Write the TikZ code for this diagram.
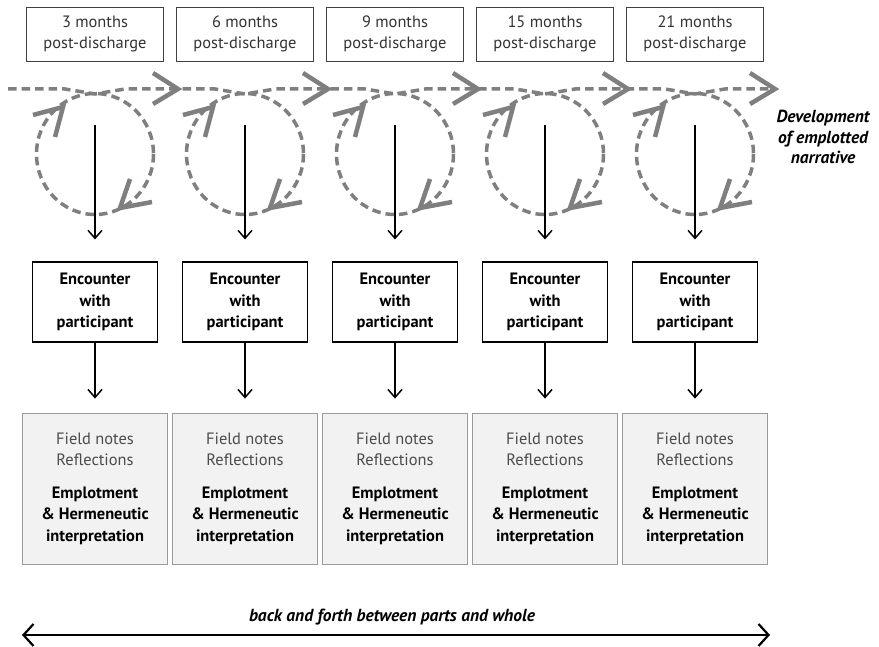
\documentclass[tikz,border=0pt]{standalone}
\usepackage{fontspec}
\setmainfont{PT Sans}
\usetikzlibrary{arrows.meta}
\definecolor{loopgray}{HTML}{7F7F7F}
\definecolor{boxline}{HTML}{404040}
\definecolor{fieldfill}{HTML}{F2F2F2}
\definecolor{fieldline}{HTML}{9A9A9A}
\tikzset{
  topbox/.style={draw=boxline, line width=0.8bp, minimum width=137bp, minimum height=54bp, inner sep=0pt, align=center, text=black!80, font=\fontsize{16.5}{21.5}\selectfont},
  encbox/.style={draw=black, line width=1.1bp, minimum width=125bp, minimum height=80bp, inner sep=0pt, align=center, font=\bfseries\fontsize{16.5}{21.5}\selectfont},
  fieldbox/.style={draw=fieldline, fill=fieldfill, line width=0.8bp, minimum width=145bp, minimum height=151bp, inner sep=0pt, align=center, font=\fontsize{16.5}{21.5}\selectfont},
  loopline/.style={draw=loopgray, line width=3.5bp, dash pattern=on 8.5bp off 5bp},
  chevron/.style={draw=loopgray, line width=4.5bp},
  downarrow/.style={draw=black, line width=1.5bp, -{Straight Barb[length=8bp,width=14bp]}},
  labeltext/.style={font=\bfseries\itshape\fontsize{17.5}{21}\selectfont, align=center}
}
\begin{document}
\begin{tikzpicture}[x=1bp,y=-1bp]
\useasboundingbox (0,0) rectangle (879,647);
% horizontal dashed line
\draw[loopline] (8,89) -- (65,89) -- (95,94) -- (125,89) -- (215,89) -- (245,94) -- (275,89)
  -- (365,89) -- (395,94) -- (425,89) -- (515,89) -- (545,94) -- (575,89)
  -- (665,89) -- (695,94) -- (725,89) -- (775,89);
\foreach \i/\cx/\tip/\lbl in {1/95/178/3, 2/245/328/6, 3/395/478/9, 4/545/628/15, 5/695/775/21}{
  \node[topbox] (t\i) at (\cx,34) {\lbl{} months\\post-discharge};
  \draw[loopline] (\cx,154) ellipse[x radius=58.5, y radius=60.5];
  \draw[chevron] (\tip-25,73) -- (\tip,89) -- (\tip-25,104);
  \draw[chevron] (\cx-62,115) -- (\cx-32,107) -- (\cx-40,137);
  \draw[chevron] (\cx+57,202) -- (\cx+25,208) -- (\cx+35,179);
  \coordinate (s\i) at (\cx,125);
  \node[encbox] (e\i) at (\cx,302) {Encounter\\with\\participant};
  \node[fieldbox] (f\i) at (\cx,488.5) {\textcolor{black!70}{Field notes}\\\textcolor{black!70}{Reflections}\\[11bp]\textbf{Emplotment}\\\textbf{\& Hermeneutic}\\\textbf{interpretation}};
  \draw[downarrow] (s\i) -- ([yshift=22bp]e\i.north);
  \draw[downarrow] (e\i.south) -- ([yshift=14bp]f\i.north);
}
\node[labeltext] (dev) at (823,137) {Development\\of emplotted\\narrative};
\coordinate (bl) at (22,635);
\coordinate (br) at (770,635);
\draw[line width=2.2bp, {Straight Barb[length=10bp,width=22bp]}-{Straight Barb[length=10bp,width=22bp]}] (bl) -- (br);
\node[labeltext] (bf) at (392,617) {back and forth between parts and whole};
\end{tikzpicture}
\end{document}
